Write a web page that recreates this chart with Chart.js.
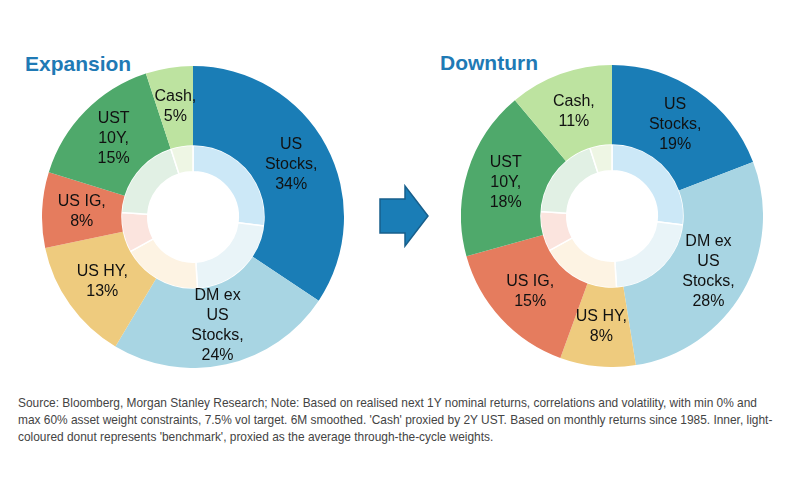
<!DOCTYPE html>
<html>
<head>
<meta charset="utf-8">
<script src="https://cdn.jsdelivr.net/npm/chart.js@4"></script>
<style>
  body { margin: 0; background: #fff; width: 800px; height: 500px; position: relative; overflow: hidden; font-family: "Liberation Sans", Arial, sans-serif; }
  .title { position: absolute; font-weight: bold; font-size: 21px; color: #1f7ab5; }
  canvas { position: absolute; }
  #note { position: absolute; left: 18px; top: 394px; font-family: "Liberation Sans", Arial, sans-serif; font-size: 13px; line-height: 17px; color: #444; white-space: nowrap; transform-origin: 0 0; }
</style>
</head>
<body>
<div class="title" style="left:25px;top:52px;">Expansion</div>
<div class="title" style="left:440px;top:51px;">Downturn</div>
<canvas id="expChart" width="302" height="302" style="left:42px;top:66px;"></canvas>
<canvas id="downChart" width="302" height="302" style="left:461px;top:65px;"></canvas>
<svg style="position:absolute;left:378px;top:184px;" width="54" height="64">
  <polygon points="2,15 27,15 27,2 50,32 27,62 27,49 2,49" fill="#1a7db6" stroke="#175f8c" stroke-width="1.5"/>
</svg>
<div id="note"><span id="noteLine1">Source: Bloomberg, Morgan Stanley Research; Note: Based on realised next 1Y nominal returns, correlations and volatility, with min 0% and</span><br>max 60% asset weight constraints, 7.5% vol target. 6M smoothed. 'Cash' proxied by 2Y UST. Based on monthly returns since 1985. Inner, light-<br>coloured donut represents 'benchmark', proxied as the average through-the-cycle weights.</div>
<script>
document.addEventListener('DOMContentLoaded', () => {
    // asset classes, clockwise from 12 o'clock
    const assets = [['US', 'Stocks'], ['DM ex', 'US', 'Stocks'], ['US HY'], ['US IG'], ['UST', '10Y'], ['Cash']];
    const expansionWeights = [34, 24, 13, 8, 15, 5];
    const downturnWeights = [19, 28, 8, 15, 18, 11];
    const benchmarkWeights = [27, 22, 18, 9, 19, 5];

    const colors = ['#1a7db6', '#a8d5e3', '#eecb7e', '#e57c5e', '#4fa96b', '#bde3a0'];
    const lightColors = ['#cce8f7', '#e9f4f8', '#fdf3e3', '#fbe4de', '#e1f0e4', '#eef6e4'];

    // squeeze the source note so the first line spans like the original condensed font
    const note = document.getElementById('note');
    const w1 = document.getElementById('noteLine1').getBoundingClientRect().width;
    note.style.transform = `scaleX(${739 / w1})`;

    const labelPlugin = {
        id: 'sliceLabels',
        afterDatasetsDraw(chart) {
            const { ctx } = chart;
            const meta = chart.getDatasetMeta(0);
            const values = chart.data.datasets[0].data;
            ctx.save();
            ctx.font = '16px "Liberation Sans", Arial, sans-serif';
            ctx.fillStyle = '#111';
            ctx.textAlign = 'center';
            ctx.textBaseline = 'middle';
            meta.data.forEach((arc, i) => {
                const { x, y } = arc.tooltipPosition();
                const lines = assets[i].slice();
                lines[lines.length - 1] += ',';
                lines.push(values[i] + '%');
                const lh = 20;
                const top = y - (lines.length - 1) * lh / 2;
                lines.forEach((t, k) => ctx.fillText(t, x, top + k * lh));
            });
            ctx.restore();
        }
    };

    const makeChart = (id, weights) => new Chart(document.getElementById(id), {
        type: 'doughnut',
        data: {
            labels: assets.map(a => a.join(' ')),
            datasets: [
                { data: weights, backgroundColor: colors, borderWidth: 0, weight: 3 },
                { data: benchmarkWeights, backgroundColor: lightColors, borderColor: '#fff', borderWidth: 1.5, weight: 1 }
            ]
        },
        options: {
            responsive: false,
            animation: false,
            cutout: '30%',
            plugins: { legend: { display: false }, tooltip: { enabled: false } }
        },
        plugins: [labelPlugin]
    });

    makeChart('expChart', expansionWeights);
    makeChart('downChart', downturnWeights);
});
</script>
</body>
</html>
